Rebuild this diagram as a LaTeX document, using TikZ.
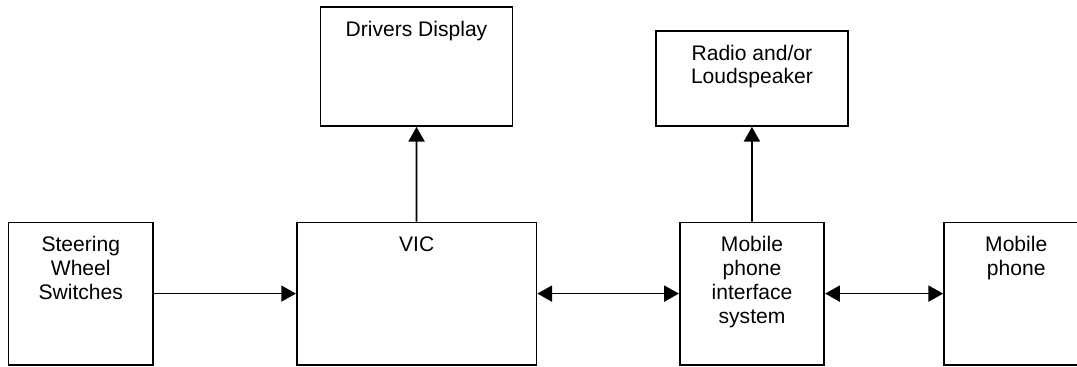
\documentclass[tikz,border=0pt]{standalone}
\usepackage{fontspec}
\setmainfont{Liberation Sans}
\usetikzlibrary{arrows.meta}

\tikzset{
  box/.style={draw, line width=1.3pt, inner sep=0pt},
  boxtext/.style={anchor=north, inner sep=0pt, align=center,
    font=\fontsize{15.8}{17.9}\selectfont},
  link/.style={line width=1.3pt, -{Triangle[length=11pt,width=12pt]}},
  duplex/.style={line width=1.3pt, {Triangle[length=11pt,width=12pt]}-{Triangle[length=11pt,width=12pt]}}
}

\begin{document}
\begin{tikzpicture}[x=0.75pt,y=0.75pt]
% Page frame, the phone box runs off the right edge
\clip (0,0) rectangle (1077,367);
% Lower row of boxes
\node [box,minimum width=108.4pt,minimum height=106.7pt] (sws) at (80.75,73.4) {};
\node [box,minimum width=179.8pt,minimum height=106.7pt] (vic) at (416.65,73.4) {};
\node [box,minimum width=108.4pt,minimum height=106.7pt] (mpis) at (752,73.4) {};
\node [box,minimum width=108.4pt,minimum height=106.7pt] (mob) at (1016.25,73.4) {};
% Upper row of boxes
\node [box,minimum width=144pt,minimum height=89.25pt] (dd) at (416.5,300.5) {};
\node [box,minimum width=144.2pt,minimum height=71.5pt] (radio) at (751.9,288.65) {};
% Texts at the top of each box
\node [boxtext,yshift=-11pt] (swstext) at (sws.north) {Steering\\Wheel\\Switches};
\node [boxtext,yshift=-11pt] (victext) at (vic.north) {VIC};
\node [boxtext,yshift=-11pt] (mpistext) at (mpis.north) {Mobile\\phone\\interface\\system};
\node [boxtext,yshift=-11pt] (mobtext) at (mob.north) {Mobile\\phone};
\node [boxtext,yshift=-11pt] (ddtext) at (dd.north) {Drivers Display};
\node [boxtext,yshift=-11pt] (radiotext) at (radio.north) {Radio and/or\\Loudspeaker};
% Connections
\draw [link] (sws) -- (vic);
\draw [duplex] (vic) -- (mpis);
\draw [duplex] (mpis) -- (mob);
\draw [link] (vic) -- (dd);
\draw [link] (mpis) -- (radio);
\end{tikzpicture}
\end{document}
